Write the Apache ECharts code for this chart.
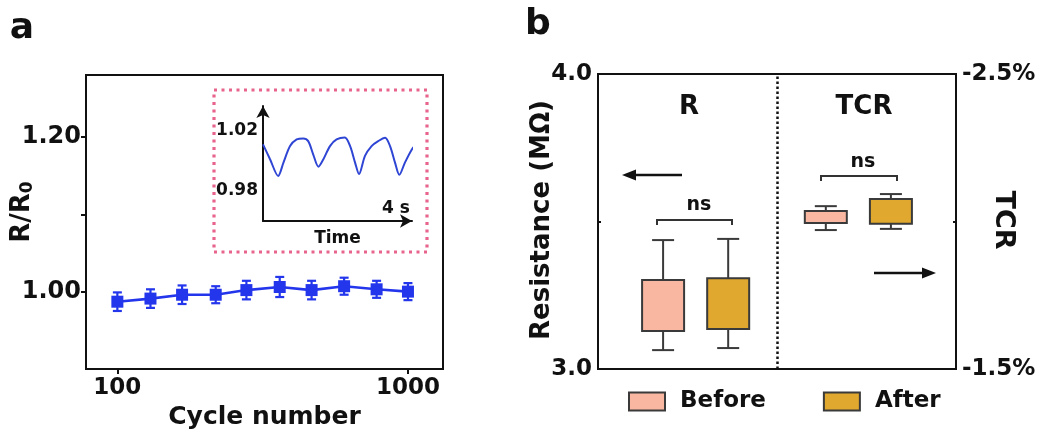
<!DOCTYPE html>
<html>
<head>
<meta charset="utf-8">
<script src="https://cdn.jsdelivr.net/npm/echarts@6/dist/echarts.min.js"></script>
<style>html,body{margin:0;padding:0;background:#fff}#c{width:1045px;height:431px}</style>
</head>
<body>
<div id="c"></div>
<script>
// ---- Panel a data ----
const cycles = [100, 130, 167, 218, 278, 362, 466, 603, 780, 1000];
const ratio = [0.987, 0.991, 0.996, 0.996, 1.002, 1.006, 1.002, 1.007, 1.003, 1.000];
const ratioErr = [0.012, 0.012, 0.012, 0.011, 0.012, 0.013, 0.012, 0.011, 0.011, 0.011];
const ratioTicks = [1.0, 1.2];
const cycleTicks = [100, 1000];

// inset: R/R0 vs time (s)
const insetTime = [0, 0.21, 0.46, 0.62, 0.82, 1.02, 1.22, 1.37, 1.52, 1.68, 1.83, 2.03, 2.23, 2.48, 2.64, 2.79, 2.91, 3.09, 3.29, 3.49, 3.70, 3.85, 4.00, 4.13, 4.30, 4.51, 4.64];
const insetValue = [1.0106, 1.0010, 0.9898, 0.9986, 1.0095, 1.0139, 1.0146, 1.0128, 1.0041, 0.9959, 1.0008, 1.0095, 1.0139, 1.0152, 1.0095, 0.9986, 0.9910, 1.0030, 1.0095, 1.0128, 1.0150, 1.0095, 0.9986, 0.9905, 0.9986, 1.0073, 1.0106];
const insetTicks = [0.98, 1.02];

// ---- Panel b data: [min, Q1, Q3, max] ----
const groups = ['R', 'TCR'];
const conditions = ['Before', 'After'];
const resistanceBefore = [3.064, 3.129, 3.302, 3.437];   // MΩ
const resistanceAfter  = [3.071, 3.136, 3.308, 3.441];   // MΩ
const tcrBefore = [-2.052, -2.036, -1.995, -1.971];      // %
const tcrAfter  = [-2.093, -2.076, -1.992, -1.975];      // %
const resistanceTicks = [3.0, 4.0];
const tcrTicks = [-2.5, -1.5];

const FONT = "'DejaVu Sans', sans-serif";
const BLACK = '#111';
const BLUE = '#2436ec';
const colors = { Before: '#f9b7a2', After: '#e0a82e' };

// slot positions on panel b's hidden value axis (layout only)
function slotOf(gi, ci) { return gi === 0 ? 2 + 2 * ci : 7 + 2 * ci; }

const errData = cycles.map((c, i) => [c, ratio[i], ratioErr[i]]);
const lineData = cycles.map((c, i) => [c, ratio[i]]);
const insetData = insetTime.map((t, i) => [t, insetValue[i]]);

function errRender(params, api) {
  const x = api.value(0), y = api.value(1), e = api.value(2);
  const t = api.coord([x, y + e]), b = api.coord([x, y - e]);
  const w = 4.5;
  const st = { stroke: BLUE, lineWidth: 2.2 };
  return { type: 'group', children: [
    { type: 'line', shape: { x1: t[0], y1: t[1], x2: b[0], y2: b[1] }, style: st },
    { type: 'line', shape: { x1: t[0] - w, y1: t[1], x2: t[0] + w, y2: t[1] }, style: st },
    { type: 'line', shape: { x1: b[0] - w, y1: b[1], x2: b[0] + w, y2: b[1] }, style: st }
  ]};
}

function boxRender(params, api) {
  const x = api.value(0);
  const pMin = api.coord([x, api.value(1)]);
  const pQ1 = api.coord([x, api.value(2)]);
  const pQ3 = api.coord([x, api.value(3)]);
  const pMax = api.coord([x, api.value(4)]);
  const half = 21, cap = 11;
  const fill = api.visual('color');
  const ws = { stroke: '#3a3a3a', lineWidth: 2 };
  const top = Math.min(pQ1[1], pQ3[1]), h = Math.abs(pQ1[1] - pQ3[1]);
  return { type: 'group', children: [
    { type: 'line', shape: { x1: pMin[0], y1: pMin[1], x2: pQ1[0], y2: pQ1[1] }, style: ws },
    { type: 'line', shape: { x1: pQ3[0], y1: pQ3[1], x2: pMax[0], y2: pMax[1] }, style: ws },
    { type: 'line', shape: { x1: pMin[0] - cap, y1: pMin[1], x2: pMin[0] + cap, y2: pMin[1] }, style: ws },
    { type: 'line', shape: { x1: pMax[0] - cap, y1: pMax[1], x2: pMax[0] + cap, y2: pMax[1] }, style: ws },
    { type: 'rect', shape: { x: pQ1[0] - half, y: top, width: 2 * half, height: h }, style: { fill: fill, stroke: '#3a3a3a', lineWidth: 2 } }
  ]};
}

const boxSets = [
  { g: 0, c: 0, vals: resistanceBefore, yAxisIndex: 2 },
  { g: 0, c: 1, vals: resistanceAfter, yAxisIndex: 2 },
  { g: 1, c: 0, vals: tcrBefore, yAxisIndex: 3 },
  { g: 1, c: 1, vals: tcrAfter, yAxisIndex: 3 }
];

const boxSeries = boxSets.map((s, k) => {
  const name = conditions[s.c];
  const ser = {
    type: 'custom', name: name, xAxisIndex: 2, yAxisIndex: s.yAxisIndex,
    itemStyle: { color: colors[name] },
    renderItem: boxRender,
    encode: { x: 0, y: [1, 2, 3, 4] },
    data: [[slotOf(s.g, s.c)].concat(s.vals)],
    z: 3
  };
  if (k === 0) {
    ser.markLine = {
      silent: true, symbol: 'none', label: { show: false },
      lineStyle: { color: BLACK, type: [2.5, 2.5], width: 2.5 },
      data: [{ xAxis: 5.5 }]
    };
  }
  return ser;
});

const txt = (x, y, text, size, extra, rot) => ({
  type: 'text', x: x, y: y, rotation: rot || 0,
  style: Object.assign({ text: text, font: 'bold ' + size + 'px ' + FONT, fill: BLACK, align: 'center', verticalAlign: 'middle' }, extra || {})
});

const nameStyle = (size) => ({ color: BLACK, fontFamily: FONT, fontWeight: 'bold', fontSize: size });

const option = {
  backgroundColor: '#fff',
  animation: false,
  grid: [
    { left: 86, top: 75, width: 357, height: 294, show: true, borderColor: BLACK, borderWidth: 2, backgroundColor: 'transparent', containLabel: false, outerBoundsMode: 'none' },
    { left: 263, top: 106, width: 149, height: 115, containLabel: false, outerBoundsMode: 'none' },
    { left: 598, top: 74, width: 358, height: 295, show: true, borderColor: BLACK, borderWidth: 2, backgroundColor: 'transparent', containLabel: false, outerBoundsMode: 'none' }
  ],
  xAxis: [
    { type: 'log', logBase: 10, gridIndex: 0, min: 78, max: 1320,
      axisLine: { show: false }, splitLine: { show: false }, minorTick: { show: false },
      axisTick: { show: true, length: 5, lineStyle: { color: BLACK, width: 2 }, customValues: cycleTicks },
      axisLabel: { customValues: cycleTicks, margin: 8, color: BLACK, fontFamily: FONT, fontWeight: 'bold', fontSize: 23,
        formatter: v => String(Math.round(v)) },
      name: 'Cycle number', nameLocation: 'middle', nameGap: 34,
      nameTextStyle: nameStyle(25) },
    { type: 'value', gridIndex: 1, min: 0, max: 4.515,
      axisLine: { show: true, onZero: false, symbol: ['none', 'arrow'], symbolSize: [10, 12], lineStyle: { color: BLACK, width: 2 } },
      axisTick: { show: false }, axisLabel: { show: false }, splitLine: { show: false },
      name: 'Time', nameLocation: 'middle', nameGap: 9,
      nameTextStyle: nameStyle(17) },
    { type: 'value', gridIndex: 2, min: 0, max: 11,
      axisLine: { show: false }, axisTick: { show: false }, axisLabel: { show: false }, splitLine: { show: false } }
  ],
  yAxis: [
    { type: 'value', gridIndex: 0, min: 0.9, max: 1.28,
      axisLine: { show: false }, splitLine: { show: false },
      axisTick: { show: true, length: 5, lineStyle: { color: BLACK, width: 2 }, customValues: [1.0, 1.1, 1.2] },
      axisLabel: { customValues: ratioTicks, margin: 5, color: BLACK, fontFamily: FONT, fontWeight: 'bold', fontSize: 24,
        formatter: v => v.toFixed(2) } },
    { type: 'value', gridIndex: 1, min: 0.96, max: 1.036,
      axisLine: { show: true, symbol: ['none', 'arrow'], symbolSize: [10, 12], lineStyle: { color: BLACK, width: 2 } },
      axisTick: { show: false }, splitLine: { show: false },
      axisLabel: { customValues: insetTicks, margin: 5, color: BLACK, fontFamily: FONT, fontWeight: 'bold', fontSize: 17,
        formatter: v => v.toFixed(2) } },
    { type: 'value', gridIndex: 2, min: 3, max: 4, position: 'left',
      axisLine: { show: false }, splitLine: { show: false },
      axisTick: { show: true, inside: true, length: 3, lineStyle: { color: BLACK, width: 2 }, customValues: [3.5] },
      axisLabel: { customValues: resistanceTicks, margin: 6, color: BLACK, fontFamily: FONT, fontWeight: 'bold', fontSize: 23,
        formatter: v => v.toFixed(1) } },
    { type: 'value', gridIndex: 2, min: -2.5, max: -1.5, inverse: true, position: 'right',
      axisLine: { show: false }, splitLine: { show: false },
      axisTick: { show: true, inside: true, length: 3, lineStyle: { color: BLACK, width: 2 }, customValues: [-2.0] },
      axisLabel: { customValues: tcrTicks, margin: 6, color: BLACK, fontFamily: FONT, fontWeight: 'bold', fontSize: 23,
        formatter: v => v.toFixed(1) + '%' } }
  ],
  legend: {
    left: 623, top: 385, icon: 'rect', itemWidth: 36, itemHeight: 18, itemGap: 57,
    selectedMode: false,
    textStyle: { color: BLACK, fontFamily: FONT, fontWeight: 'bold', fontSize: 23, padding: [0, 0, 0, 10] },
    data: conditions.map(n => ({ name: n, itemStyle: { color: colors[n], borderColor: '#3a3a3a', borderWidth: 2 } }))
  },
  series: [
    { type: 'custom', name: 'err', xAxisIndex: 0, yAxisIndex: 0, renderItem: errRender,
      encode: { x: 0, y: 1 }, data: errData, z: 2 },
    { type: 'line', name: 'ratio', xAxisIndex: 0, yAxisIndex: 0, data: lineData,
      symbol: 'rect', symbolSize: 12, itemStyle: { color: BLUE }, lineStyle: { color: BLUE, width: 2.6 }, z: 3 },
    { type: 'line', name: 'inset', xAxisIndex: 1, yAxisIndex: 1, data: insetData, smooth: 0.3,
      showSymbol: false, lineStyle: { color: '#2f45d4', width: 2 } }
  ].concat(boxSeries),
  graphic: [
    txt(22, 29, 'a', 36),
    txt(538, 25, 'b', 36),
    // vertical axis titles
    txt(22, 212, 'R/R{s|0}', 26, { rich: { s: { font: 'bold 17px ' + FONT, fill: BLACK, verticalAlign: 'bottom', padding: [12, 0, 0, 0] } } }, Math.PI / 2),
    txt(542, 220, 'Resistance (MΩ)', 26, null, Math.PI / 2),
    txt(1003, 220, 'TCR', 27, null, -Math.PI / 2),
    { type: 'rect', shape: { x: 214, y: 90, width: 213, height: 162 },
      style: { fill: 'none', stroke: '#e8648c', lineWidth: 3.2, lineDash: [3, 4.5] } },
    txt(396, 209, '4 s', 17),
    txt(689, 107, 'R', 26),
    txt(864, 107, 'TCR', 26),
    txt(699, 205, 'ns', 19),
    txt(863, 162, 'ns', 19),
    { type: 'polyline', shape: { points: [[657, 225], [657, 220], [732, 220], [732, 225]] }, style: { fill: 'none', stroke: '#333', lineWidth: 2 } },
    { type: 'polyline', shape: { points: [[821, 181], [821, 176], [897, 176], [897, 181]] }, style: { fill: 'none', stroke: '#333', lineWidth: 2 } },
    { type: 'line', shape: { x1: 682, y1: 175, x2: 632, y2: 175 }, style: { stroke: BLACK, lineWidth: 2.5 } },
    { type: 'polygon', shape: { points: [[622, 175], [636, 169.5], [636, 180.5]] }, style: { fill: BLACK } },
    { type: 'line', shape: { x1: 874, y1: 273, x2: 926, y2: 273 }, style: { stroke: BLACK, lineWidth: 2.5 } },
    { type: 'polygon', shape: { points: [[936, 273], [922, 267.5], [922, 278.5]] }, style: { fill: BLACK } }
  ]
};

const chart = echarts.init(document.getElementById('c'), null, { renderer: 'canvas' });
chart.setOption(option);
</script>
</body>
</html>
